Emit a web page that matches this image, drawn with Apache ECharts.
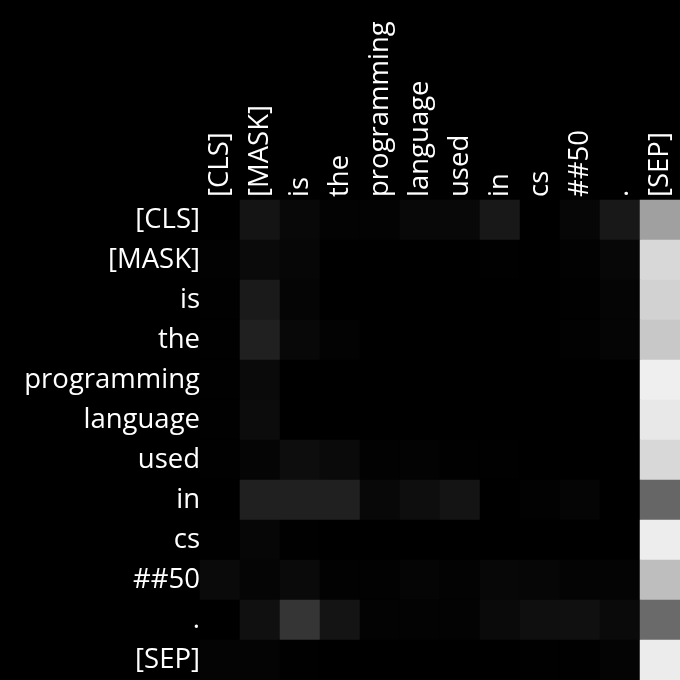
<!DOCTYPE html>
<html><head><meta charset="utf-8">
<script src="https://cdn.jsdelivr.net/npm/echarts@6/dist/echarts.min.js"></script>
<style>html,body{margin:0;padding:0;background:#000;}#c{width:680px;height:680px;}</style>
</head><body><div id="c"></div>
<script>
const tokens = ['[CLS]','[MASK]','is','the','programming','language','used','in','cs','##50','.','[SEP]'];
// gray levels (0-255), row = query token, col = key token
const rowCLS  = [0,20,8,3,3,8,8,24,0,6,24,160];
const rowMASK = [2,10,6,0,0,0,0,1,0,2,7,216];
const rowIs   = [1,26,5,0,0,0,0,0,0,1,5,210];
const rowThe  = [1,32,8,3,0,0,0,0,0,2,5,200];
const rowProg = [1,10,0,0,0,0,0,0,0,0,0,239];
const rowLang = [1,12,0,0,0,0,0,0,0,0,0,232];
const rowUsed = [1,5,13,10,2,3,1,1,0,0,0,216];
const rowIn   = [0,32,32,32,8,14,20,0,2,5,0,102];
const rowCs   = [1,6,1,0,0,0,0,0,0,0,0,237];
const row50   = [10,5,10,2,2,5,3,7,6,4,4,190];
const rowDot  = [0,16,53,20,3,3,3,10,15,16,10,106];
const rowSEP  = [4,4,1,0,0,0,0,0,1,1,4,236];
const rows = [rowCLS,rowMASK,rowIs,rowThe,rowProg,rowLang,rowUsed,rowIn,rowCs,row50,rowDot,rowSEP];

const data = [];
rows.forEach((r, i) => r.forEach((v, j) => data.push([j, i, v / 255])));

const chart = echarts.init(document.getElementById('c'), null, {renderer:'canvas'});
const font = '"Open Sans", "Noto Sans", sans-serif';
chart.setOption({
  backgroundColor: '#000',
  animation: false,
  grid: {left: 200, top: 200, width: 480, height: 480},
  xAxis: {
    type: 'category', data: tokens, position: 'top',
    axisLine: {show: false}, axisTick: {show: false}, splitLine: {show: false},
    axisLabel: {rotate: -90, color: '#fff', fontSize: 27.5, fontFamily: font, margin: 3, interval: 0}
  },
  yAxis: {
    type: 'category', data: tokens, inverse: true,
    axisLine: {show: false}, axisTick: {show: false}, splitLine: {show: false},
    axisLabel: {color: '#fff', fontSize: 27.5, fontFamily: font, margin: 0, interval: 0}
  },
  visualMap: {show: false, min: 0, max: 1, inRange: {color: ['#000000', '#ffffff']}},
  series: [{type: 'heatmap', data: data, itemStyle: {borderWidth: 0}}]
});
</script></body></html>
